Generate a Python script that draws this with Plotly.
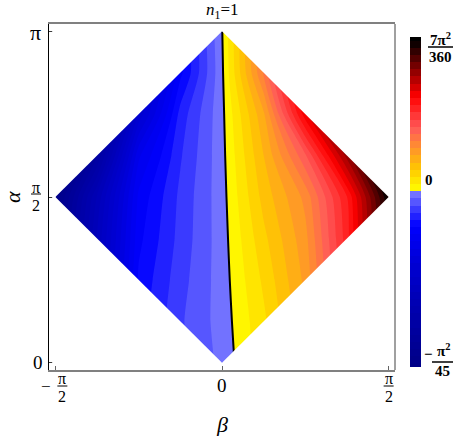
import numpy as np
import plotly.graph_objects as go

PI = np.pi

# grid of the contour plot: beta (x) and alpha (y), steps of pi/8
beta = [-PI/2, -3*PI/8, -PI/4, -PI/8, 0.0, PI/8, PI/4, 3*PI/8, PI/2]
alpha = [0.0, PI/8, PI/4, 3*PI/8, PI/2, 5*PI/8, 3*PI/4, 7*PI/8, PI]

# values (one row per alpha, bottom to top)
z_rows = [
    [-0.2083, -0.1316, -0.0439, -0.0210, -0.0064, 0.0150, 0.0384, 0.0960, 0.1823],
    [-0.2083, -0.1272, -0.0417, -0.0197, -0.0051, 0.0163, 0.0442, 0.0960, 0.1823],
    [-0.2105, -0.1229, -0.0439, -0.0219, -0.0046, 0.0201, 0.0480, 0.1017, 0.1861],
    [-0.2105, -0.1272, -0.0482, -0.0241, -0.0042, 0.0249, 0.0518, 0.1055, 0.1880],
    [-0.2193, -0.1360, -0.0526, -0.0252, -0.0037, 0.0307, 0.0576, 0.1094, 0.1919],
    [-0.2588, -0.1754, -0.0658, -0.0285, -0.0030, 0.0365, 0.0806, 0.1497, 0.2322],
    [-0.2700, -0.2083, -0.0987, -0.0329, -0.0024, 0.0441, 0.1247, 0.1938, 0.2399],
    [-0.2800, -0.2100, -0.1140, -0.0482, -0.0017, 0.0652, 0.1458, 0.2015, 0.2495],
    [-0.2800, -0.2100, -0.1200, -0.0470, -0.0005, 0.0664, 0.1500, 0.2111, 0.2495],
]

z_min = -PI**2/45
z_max = 7*PI**2/360
step = PI**2/1080

x_ticks = [-PI/2, 0.0, PI/2]
y_ticks = [0.0, PI/2, PI]

# colour stops, as fraction of the negative / positive extreme
neg_stops = [(1.0, "rgb(0,0,135)"), (0.6, "rgb(0,0,185)"), (0.4, "rgb(0,0,215)"),
             (0.2, "rgb(0,0,255)"), (0.1, "rgb(60,60,255)"), (0.0, "rgb(128,128,255)")]
pos_stops = [(0.0, "rgb(255,255,0)"), (0.15, "rgb(255,200,0)"), (0.3, "rgb(255,140,50)"),
             (0.42, "rgb(255,90,90)"), (0.63, "rgb(255,0,0)"), (1.0, "rgb(0,0,0)")]

# plot area in pixels
L, T, W, H = 49, 24, 346, 346
FONT = "Liberation Serif"

n_levels = int(round((z_max - z_min) / step)) + 1


def pos(v):
    p = (v - z_min + step/2) / (n_levels*step)
    return min(max(p, 0.0), 1.0)


scale = [[0.0, neg_stops[0][1]]]
for f, c in neg_stops:
    p = pos(-f*abs(z_min))
    if f == 0.0:
        p -= 1e-4
    scale.append([p, c])
for g, c in pos_stops:
    p = pos(g*z_max)
    if g == 0.0:
        p += 1e-4
    scale.append([p, c])
scale.append([1.0, pos_stops[-1][1]])


def px(xp):
    return (xp - L) / W


def py(yp):
    return (T + H - yp) / H


fig = go.Figure()
fig.add_trace(go.Contour(
    x=beta, y=alpha, z=z_rows,
    autocontour=False,
    contours=dict(start=z_min, end=z_max, size=step, coloring="fill", showlines=False),
    line=dict(width=0, smoothing=0.6),
    colorscale=scale,
    colorbar=dict(thickness=11, len=330, lenmode="pixels", x=px(410), xanchor="left",
                  xpad=0, y=py(202), yanchor="middle", ypad=0, outlinewidth=0,
                  showticklabels=False, ticks=""),
    hoverinfo="skip",
))
fig.add_trace(go.Contour(
    x=beta, y=alpha, z=z_rows,
    autocontour=False,
    contours=dict(start=0, end=0, size=1, coloring="none"),
    line=dict(color="black", width=2, smoothing=0.6),
    showscale=False,
    hoverinfo="skip",
))

# white out the corners so only the diamond remains (reaching a little past the data)
x0, x1 = beta[0], beta[-1]
y0, y1 = alpha[0], alpha[-1]
xm, ym = beta[4], alpha[4]
e = 0.03
corners = [
    [(x0, ym), (x0 - e, ym), (x0 - e, y1 + e), (xm, y1 + e), (xm, y1)],
    [(xm, y1), (xm, y1 + e), (x1 + e, y1 + e), (x1 + e, ym), (x1, ym)],
    [(x1, ym), (x1 + e, ym), (x1 + e, y0 - e), (xm, y0 - e), (xm, y0)],
    [(xm, y0), (xm, y0 - e), (x0 - e, y0 - e), (x0 - e, ym), (x0, ym)],
]
for poly in corners:
    path = "M " + " L ".join(f"{a},{b}" for a, b in poly) + " Z"
    fig.add_shape(type="path", path=path, xref="x", yref="y", fillcolor="white",
                  line=dict(width=0), layer="above")

# right frame edge
fig.add_shape(type="line", xref="paper", yref="paper", x0=1, x1=1, y0=0, y1=1,
              line=dict(color="rgb(128,128,128)", width=1.5))

ann = []


def text(t, x, y, xref="paper", yref="paper", size=17, xshift=0, yshift=0, angle=0):
    ann.append(dict(text=t, x=x, y=y, xref=xref, yref=yref, showarrow=False,
                    xanchor="center", yanchor="middle", xshift=xshift, yshift=yshift,
                    textangle=angle, font=dict(family=FONT, size=size, color="black")))


def bar(xa, ya, xref, yref, xa0, xa1, yo, width=1):
    fig.add_shape(type="line", xref=xref, yref=yref, xsizemode="pixel", ysizemode="pixel",
                  xanchor=xa, yanchor=ya, x0=xa0, x1=xa1, y0=yo, y1=yo,
                  line=dict(color="black", width=width))


# x tick labels
text("0", x_ticks[1], 0, "x", "paper", 19, yshift=-15)
text("π", x_ticks[2], 0, "x", "paper", 16, yshift=-8)
bar(x_ticks[2], 0, "x", "paper", -5, 5, -16)
text("2", x_ticks[2], 0, "x", "paper", 16, yshift=-26)
text("−", x_ticks[0], 0, "x", "paper", 17, xshift=-9, yshift=-16)
text("π", x_ticks[0], 0, "x", "paper", 16, xshift=7, yshift=-8)
bar(x_ticks[0], 0, "x", "paper", 2, 12, -16)
text("2", x_ticks[0], 0, "x", "paper", 16, xshift=7, yshift=-26)

# y tick labels
text("0", 0, y_ticks[0], "paper", "y", 19, xshift=-11)
text("π", 0, y_ticks[1], "paper", "y", 16, xshift=-13, yshift=10)
bar(0, y_ticks[1], "paper", "y", -18, -8, 3)
text("2", 0, y_ticks[1], "paper", "y", 16, xshift=-13, yshift=-8)
text("π", 0, y_ticks[2], "paper", "y", 22, xshift=-14, yshift=-1)

# colour bar labels
text("<b>7π<sup>2</sup></b>", px(440.5), py(39), size=15)
fig.add_shape(type="line", xref="paper", yref="paper", x0=px(428), x1=px(453), y0=py(47), y1=py(47),
              line=dict(color="black", width=1.5))
text("<b>360</b>", px(440.5), py(57), size=15)
text("<b>0</b>", px(429), py(180), size=15)
text("<b>−</b>", px(428.5), py(354), size=15)
text("<b>π<sup>2</sup></b>", px(443), py(350), size=15)
fig.add_shape(type="line", xref="paper", yref="paper", x0=px(432), x1=px(453), y0=py(362), y1=py(362),
              line=dict(color="black", width=1.5))
text("<b>45</b>", px(442.5), py(371), size=15)

# titles
text("<i>n</i><sub>1</sub>=1", px(222), py(11), size=17)
text("<i>β</i>", px(222), py(424), size=22)
text("<i>α</i>", px(12), py(197), size=22, angle=-90)

fig.update_layout(
    width=457, height=436,
    margin=dict(l=L, r=457 - L - W, t=T, b=436 - T - H, autoexpand=False),
    paper_bgcolor="white", plot_bgcolor="white",
    showlegend=False,
    annotations=ann,
    xaxis=dict(range=[-PI/2 - 0.06, PI/2 + 0.06], showgrid=False, zeroline=False,
               showline=True, linecolor="rgb(128,128,128)", linewidth=1.5, mirror=True,
               ticks="inside", tickvals=x_ticks, ticklen=4, tickcolor="rgb(100,100,100)",
               showticklabels=False),
    yaxis=dict(range=[-0.068, PI + 0.068], showgrid=False, zeroline=False,
               showline=True, linecolor="black", linewidth=1, mirror=False,
               ticks="inside", tickvals=y_ticks, ticklen=4, tickcolor="rgb(60,60,60)",
               showticklabels=False),
)

fig.write_html("out.html", config={"displayModeBar": False},
               post_script="document.body.style.margin='0px';")
